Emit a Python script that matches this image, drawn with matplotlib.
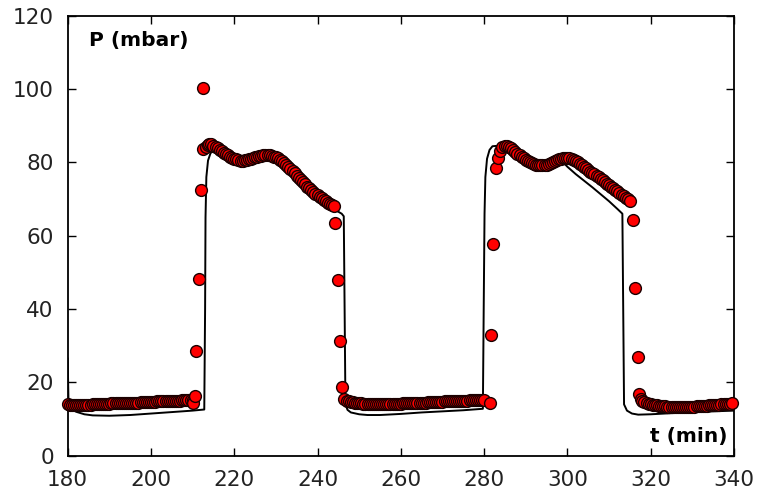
import numpy as np
import matplotlib
matplotlib.use('Agg')
import matplotlib.pyplot as plt

plt.rcParams['font.family'] = ['DejaVu Sans']

# --- measured pressure, plateaus sampled every 0.5 min ---
t_low1 = np.arange(180, 210.01, 0.5)
p_low1 = [14.0, 13.9, 13.8, 13.8, 13.7, 13.7, 13.7, 13.7, 13.8, 13.8, 13.9, 13.9, 14.0, 14.0,
          14.0, 14.1, 14.1, 14.1, 14.2, 14.2, 14.2, 14.3, 14.3, 14.3, 14.3, 14.4, 14.4, 14.4,
          14.4, 14.5, 14.5, 14.5, 14.5, 14.5, 14.5, 14.6, 14.6, 14.6, 14.6, 14.7, 14.7, 14.7,
          14.7, 14.8, 14.8, 14.8, 14.8, 14.9, 14.9, 14.9, 14.9, 15.0, 15.0, 15.0, 15.0, 15.1,
          15.1, 15.1, 15.1, 15.2, 15.2]
t_rise1 = [210.1, 210.5, 210.9, 211.6, 212.0, 212.5, 212.6, 213.2, 213.8]
p_rise1 = [14.3, 16.2, 28.5, 48.2, 72.4, 100.2, 83.6, 84.2, 84.8]
t_top1 = np.arange(214, 244.01, 0.5)
p_top1 = [84.9, 85.0, 84.6, 84.2, 83.8, 83.4, 83.0, 82.6, 82.2, 81.9, 81.6, 81.3, 81.0, 80.8,
          80.6, 80.5, 80.5, 80.6, 80.7, 80.8, 81.0, 81.2, 81.4, 81.6, 81.7, 81.8, 81.9, 82.0,
          82.0, 81.9, 81.8, 81.6, 81.4, 81.1, 80.7, 80.3, 79.8, 79.3, 78.7, 78.2, 77.6, 77.0,
          76.4, 75.8, 75.2, 74.6, 74.0, 73.4, 72.9, 72.4, 71.9, 71.4, 71.0, 70.6, 70.2, 69.8,
          69.4, 69.0, 68.7, 68.3, 68.0]
t_drop1 = [244.3, 244.8, 245.4, 245.9, 246.4]
p_drop1 = [63.5, 48.0, 31.2, 18.7, 15.6]
t_low2 = np.arange(247, 280.01, 0.5)
p_low2 = [15.0, 14.8, 14.7, 14.6, 14.5, 14.4, 14.3, 14.3, 14.2, 14.2, 14.1, 14.1, 14.0, 14.0,
          14.0, 14.0, 14.0, 14.0, 14.0, 14.0, 14.1, 14.1, 14.1, 14.1, 14.2, 14.2, 14.2, 14.3,
          14.3, 14.3, 14.3, 14.4, 14.4, 14.4, 14.4, 14.5, 14.5, 14.5, 14.5, 14.6, 14.6, 14.6,
          14.6, 14.7, 14.7, 14.7, 14.7, 14.8, 14.8, 14.8, 14.8, 14.9, 14.9, 14.9, 14.9, 15.0,
          15.0, 15.0, 15.0, 15.1, 15.1, 15.1, 15.1, 15.2, 15.2, 15.2, 15.3]
t_rise2 = [281.3, 281.7, 282.1, 282.9, 283.3, 283.8, 284.4]
p_rise2 = [14.4, 32.9, 57.8, 78.5, 81.3, 83.2, 84.2]
t_top2 = np.arange(285, 315.01, 0.5)
p_top2 = [84.6, 84.5, 84.3, 83.9, 83.4, 82.9, 82.4, 81.9, 81.5, 81.1, 80.7, 80.3, 80.0, 79.7,
          79.5, 79.3, 79.2, 79.2, 79.2, 79.3, 79.4, 79.6, 79.8, 80.0, 80.3, 80.6, 80.8, 81.0,
          81.1, 81.2, 81.2, 81.1, 80.9, 80.6, 80.3, 80.0, 79.6, 79.2, 78.8, 78.4, 78.0, 77.5,
          77.1, 76.7, 76.3, 75.9, 75.5, 75.1, 74.7, 74.2, 73.8, 73.4, 73.0, 72.5, 72.1, 71.6,
          71.2, 70.7, 70.3, 69.9, 69.5]
t_drop2 = [315.7, 316.3, 316.9, 317.2, 317.6]
p_drop2 = [64.4, 45.7, 26.9, 16.9, 15.5]
t_low3 = np.arange(318, 339.51, 0.5)
p_low3 = [14.9, 14.6, 14.4, 14.2, 14.0, 13.9, 13.8, 13.7, 13.6, 13.5, 13.5, 13.5, 13.4, 13.4,
          13.4, 13.4, 13.4, 13.4, 13.4, 13.4, 13.4, 13.4, 13.4, 13.4, 13.4, 13.4, 13.5, 13.5,
          13.5, 13.5, 13.6, 13.6, 13.7, 13.7, 13.8, 13.8, 13.9, 13.9, 14.0, 14.0, 14.1, 14.1,
          14.2, 14.3]

t_meas = np.concatenate([t_low1, t_rise1, t_top1, t_drop1, t_low2, t_rise2,
                         t_top2, t_drop2, t_low3])
p_meas = np.concatenate([p_low1, p_rise1, p_top1, p_drop1, p_low2, p_rise2,
                         p_top2, p_drop2, p_low3])

# --- model (line) ---
t_model = [180.0, 180.2, 181, 182, 184, 186, 190, 195, 200, 205, 210, 212.8, 213.0, 213.1,
           213.3, 213.7, 214.3, 215, 216, 218, 220, 222, 224, 226, 228, 230, 232, 234, 236, 238,
           240, 242, 244, 245.8, 246.3, 246.5, 246.7, 247.2, 248, 250, 252, 255, 260, 265, 270,
           275, 279.7, 279.9, 280.1, 280.3, 280.7, 281.3, 282, 283, 284, 286, 288, 290, 292, 294,
           296, 298, 299, 300, 302, 304, 306, 308, 310, 312, 313.2, 313.4, 313.6, 314.3, 315.5,
           317, 320, 325, 330, 335, 340]
p_model = [26.5, 14.5, 12.8, 12.0, 11.3, 11.0, 10.9, 11.1, 11.5, 11.9, 12.3, 12.6, 40, 65,
           76, 80.5, 82.5, 83.3, 83.0, 81.7, 80.7, 80.2, 80.5, 81.2, 81.5, 80.8, 79.3, 77.0, 74.5, 72.2,
           70.3, 68.6, 67.2, 66.0, 65.3, 40, 14.0, 12.5, 11.8, 11.3, 11.1, 11.1, 11.4, 11.8, 12.1,
           12.4, 12.8, 40, 66, 76, 81, 83.4, 84.4, 84.5, 83.8, 82.5, 81.3, 80.2, 79.5, 79.4,
           79.8, 80.3, 80.0, 78.8, 76.8, 75.0, 73.2, 71.3, 69.4, 67.3, 66.0, 40, 14, 12.3, 11.5,
           11.2, 11.3, 11.6, 11.9, 12.1, 12.3]

x_ticks = [180, 200, 220, 240, 260, 280, 300, 320, 340]
y_ticks = [0, 20, 40, 60, 80, 100, 120]

fig = plt.figure(figsize=(7.57, 4.94), dpi=100)
ax = fig.add_axes([0.0894, 0.0775, 0.8802, 0.8907])

ax.plot(t_model, p_model, color='black', lw=1.4, zorder=2)
ax.plot(t_meas, p_meas, 'o', color='#FF0000', markeredgecolor='#1a0000',
        markeredgewidth=1.0, markersize=8.5, zorder=3, clip_on=False)

ax.set_xlim(180, 340)
ax.set_ylim(0, 120)
ax.set_xticks(x_ticks)
ax.set_yticks(y_ticks)
ax.tick_params(direction='in', length=6, width=1, labelsize=15.5, top=True, right=True,
               labeltop=False, labelright=False, colors='black', labelcolor='#222222')
ax.tick_params(axis='x', pad=10)
ax.tick_params(axis='y', pad=10)
for s in ax.spines.values():
    s.set_linewidth(1.3)

ax.text(0.032, 0.931, 'P (mbar)', transform=ax.transAxes, fontsize=14.5,
        fontweight='bold', ha='left', va='baseline')
ax.text(0.991, 0.032, 't (min)', transform=ax.transAxes, fontsize=14.5,
        fontweight='bold', ha='right', va='baseline')

fig.savefig('out.png', dpi=100)
